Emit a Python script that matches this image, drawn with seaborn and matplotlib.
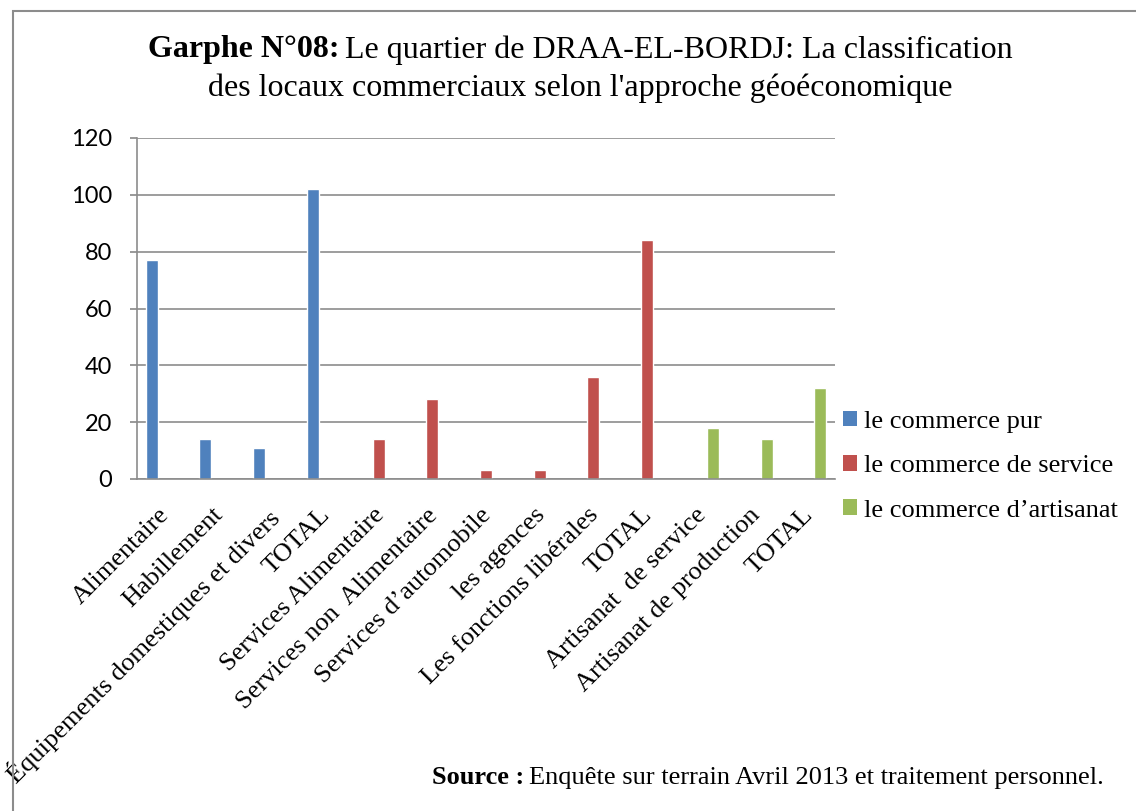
import pandas as pd
import matplotlib.pyplot as plt
import seaborn as sns
from matplotlib.patches import Rectangle, Patch

# --- data ---
categories = [
    "Alimentaire", "Habillement", "Équipements domestiques et divers", "TOTAL",
    "Services Alimentaire", "Services non  Alimentaire", "Services d\u2019automobile",
    "les agences", "Les fonctions libérales", "TOTAL",
    "Artisanat  de service", "Artisanat de production", "TOTAL",
]
series = ["le commerce pur", "le commerce de service", "le commerce d\u2019artisanat"]
commerce_pur = [77, 14, 11, 102, None, None, None, None, None, None, None, None, None]
commerce_service = [None, None, None, None, 14, 28, 3, 3, 36, 84, None, None, None]
commerce_artisanat = [None, None, None, None, None, None, None, None, None, None, 18, 14, 32]
yticks = [0, 20, 40, 60, 80, 100, 120]
colors = ["#4F81BD", "#C0504D", "#9BBB59"]

rows = []
for name, vals in zip(series, [commerce_pur, commerce_service, commerce_artisanat]):
    for i, v in enumerate(vals):
        if v is not None:
            rows.append({"pos": i, "serie": name, "valeur": v})
df = pd.DataFrame(rows)

sns.set_theme(style="white")
plt.rcParams["font.family"] = ["Liberation Serif", "DejaVu Serif"]
plt.rcParams["text.color"] = "black"
plt.rcParams["xtick.color"] = "black"
plt.rcParams["ytick.labelcolor"] = "black"

fig = plt.figure(figsize=(11.36, 8.11), dpi=100)
ax = fig.add_axes([137 / 1136, 1 - 479 / 811, (835 - 137) / 1136, (479 - 138) / 811])

sns.barplot(data=df, x="pos", y="valeur", hue="serie", hue_order=series,
            order=list(range(len(categories))), palette=colors,
            width=0.68, gap=0, dodge=True, legend=False, ax=ax, saturation=1)

ax.set_ylim(0, 120)
ax.set_xlim(-0.5, len(categories) - 0.5)
ax.set_yticks(yticks)
ax.set_yticklabels([str(t) for t in yticks], family=["Lato", "DejaVu Sans"], fontsize=17)
# labels sit a little left of the category centre, as in the original
ax.set_xticks([i - 0.11 for i in range(len(categories))])
ax.set_xticklabels(categories, rotation=45, ha="right", rotation_mode="anchor", fontsize=19)
ax.set_xlabel("")
ax.set_ylabel("")
ax.yaxis.grid(True, color="#8c8c8c", linewidth=1.2)
ax.set_axisbelow(True)
for s in ["top", "right"]:
    ax.spines[s].set_visible(False)
for s in ["left", "bottom"]:
    ax.spines[s].set_color("#8c8c8c")
    ax.spines[s].set_linewidth(1.2)
ax.tick_params(axis="y", left=True, length=5, color="#8c8c8c", pad=13)
ax.tick_params(axis="x", bottom=False, pad=12)

handles = [Patch(facecolor=c, edgecolor="none") for c in colors]
fig.legend(handles, series, loc="upper left", bbox_to_anchor=(832 / 1136, 1 - 400 / 811),
           frameon=False, fontsize=19, handlelength=0.55, handleheight=0.55,
           handletextpad=0.25, labelspacing=0.84, borderaxespad=0)

# title: bold prefix + regular remainder on first line
y1 = 1 - 50 / 811
t1 = fig.text(148 / 1136, y1, "Garphe N°08:", fontsize=23, weight="bold", va="center", ha="left")
fig.canvas.draw()
bb = t1.get_window_extent()
fig.text(bb.x1 / fig.bbox.width + 6 / 1136, y1,
         "Le quartier de DRAA-EL-BORDJ: La classification", fontsize=23, va="center", ha="left")
fig.text(580 / 1136, 1 - 88 / 811, "des locaux commerciaux selon l'approche géoéconomique",
         fontsize=23, va="center", ha="center")

# source line
t2 = fig.text(432 / 1136, 1 - 778 / 811, "Source :", fontsize=19, weight="bold", va="center", ha="left")
fig.canvas.draw()
bb2 = t2.get_window_extent()
fig.text(bb2.x1 / fig.bbox.width + 5 / 1136, 1 - 778 / 811,
         "Enquête sur terrain Avril 2013 et traitement personnel.", fontsize=19, va="center", ha="left")

# outer frame of the chart
fig.patches.append(Rectangle((13 / 1136, -0.1), 1.2, 1.1 - 11 / 811, transform=fig.transFigure,
                             fill=False, edgecolor="#8c8c8c", linewidth=1.5))

fig.savefig("out.png", dpi=100)
